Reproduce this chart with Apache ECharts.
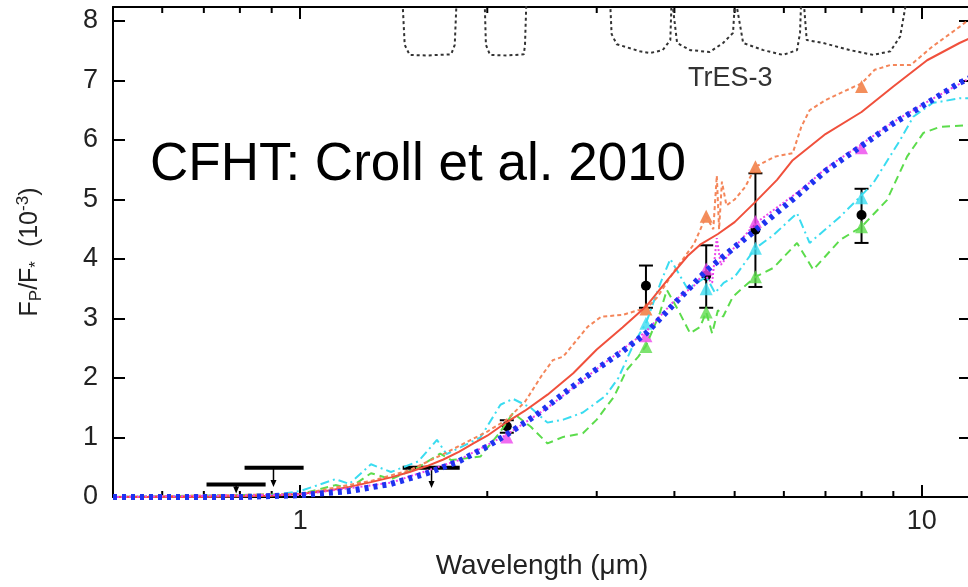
<!DOCTYPE html>
<html lang="en">
<head>
	<meta charset="UTF-8">
	<title>TrES-3 planet/star flux ratio</title>
	<script src="https://cdn.jsdelivr.net/npm/echarts@6/dist/echarts.min.js"></script>
	<style>
		html, body { margin: 0; padding: 0; background: #fff; }
		#chart { width: 968px; height: 587px; }
	</style>
</head>
<body>
	<div id="chart"></div>

	<script>
	/* axis ranges */
	var X_MIN = 0.5, X_MAX = 12;
	var Y_MIN = 0, Y_MAX = 8.235;
	var minorTicks = [0.6, 0.7, 0.8, 0.9, 2, 3, 4, 5, 6, 7, 8, 9];

	/* measured points (Fp/F*, 10^-3) */
	var ptX  = [2.15, 3.6, 4.5, 5.4, 8.0];
	var ptY  = [1.19, 3.55, 3.72, 4.49, 4.74];
	var ptLo = [1.08, 3.18, 3.18, 3.53, 4.27];
	var ptHi = [1.29, 3.89, 4.23, 5.44, 5.18];

	/* upper limits: band start, band end, level, arrow position, arrow tip */
	var ulFrom  = [0.707, 0.814, 1.462];
	var ulTo    = [0.880, 1.013, 1.806];
	var ulLevel = [0.21, 0.49, 0.49];
	var ulArrow = [0.789, 0.906, 1.627];
	var ulTip   = [0.06, 0.17, 0.15];

	/* band-integrated model values (triangles) */
	var triX       = [2.15, 3.6, 4.5, 5.4, 8.0];
	var triOrange  = [null, 3.16, 4.72, 5.55, 6.90];
	var triMagenta = [1.01, 2.71, 3.83, 4.63, 5.87];
	var triCyan    = [null, 2.92, 3.50, 4.18, 5.03];
	var triGreen   = [null, 2.53, 3.11, 3.70, 4.54];

	/* model spectra */
	var redModel = [[0.5,0],[0.7,0.0],[0.9,0.02],[1.0,0.05],[1.1,0.1],[1.2,0.17],[1.3,0.25],[1.4,0.33],[1.5,0.42],[1.6,0.52],[1.7,0.63],[1.8,0.76],[1.9,0.9],[2.0,1.03],[2.15,1.26],[2.3,1.45],[2.5,1.72],[2.75,2.08],[3.0,2.48],[3.3,2.85],[3.6,3.2],[3.9,3.65],[4.2,4.05],[4.4,4.24],[4.7,4.42],[5.0,4.62],[5.4,4.96],[5.85,5.33],[6.2,5.66],[7.0,6.1],[8.0,6.47],[9.0,6.9],[10.2,7.34],[11.5,7.63],[12,7.72]];
	var blueModel = [[0.5,0],[0.8,0.0],[1.0,0.03],[1.2,0.1],[1.4,0.22],[1.6,0.4],[1.8,0.6],[2.0,0.85],[2.15,1.05],[2.4,1.38],[2.7,1.8],[3.0,2.15],[3.3,2.45],[3.6,2.75],[4.0,3.25],[4.5,3.8],[5.0,4.2],[5.5,4.55],[6.2,5.0],[7.0,5.48],[8.0,5.9],[9.0,6.28],[10.2,6.62],[11.5,6.96],[12,7.05]];
	var magentaModel = [[0.5,0],[1.0,0.04],[1.4,0.24],[1.8,0.62],[2.15,1.05],[2.5,1.5],[3.0,2.15],[3.6,2.78],[4.0,3.3],[4.3,3.55],[4.45,3.75],[4.6,3.6],[4.68,4.35],[4.75,3.9],[5.0,4.2],[5.4,4.6],[6.0,4.95],[6.5,5.22],[7.0,5.52],[8.0,5.93],[9.0,6.3],[10.2,6.64],[12,7.05]];
	var orangeModel = [[0.5,0],[1.0,0.05],[1.3,0.27],[1.5,0.45],[1.7,0.72],[1.85,0.92],[2.0,1.1],[2.15,1.3],[2.3,1.6],[2.45,2.05],[2.55,2.3],[2.65,2.36],[2.9,2.86],[3.05,3.03],[3.3,3.06],[3.5,3.14],[3.6,3.16],[3.75,3.35],[4.0,3.8],[4.3,4.25],[4.5,4.72],[4.62,4.5],[4.68,5.4],[4.72,4.5],[4.77,5.3],[4.85,4.9],[5.0,5.0],[5.2,5.21],[5.4,5.55],[5.8,5.72],[6.2,5.78],[6.4,6.22],[6.6,6.5],[7.0,6.67],[7.8,6.9],[8.0,6.95],[8.4,7.18],[8.9,7.26],[9.6,7.26],[10.4,7.57],[11.5,7.9],[12,8.05]];
	var cyanModel = [[0.5,0],[0.9,0.03],[1.0,0.1],[1.14,0.3],[1.2,0.22],[1.3,0.55],[1.4,0.42],[1.55,0.6],[1.66,0.96],[1.72,0.72],[1.95,1.0],[2.1,1.55],[2.2,1.65],[2.35,1.5],[2.5,1.25],[2.65,1.3],[2.85,1.42],[3.1,1.7],[3.25,2.0],[3.45,2.6],[3.6,2.92],[3.8,3.6],[3.94,4.0],[4.2,3.5],[4.35,3.6],[4.5,3.7],[4.65,3.43],[4.8,3.6],[5.0,3.7],[5.4,4.18],[5.77,4.4],[6.3,4.77],[6.6,4.27],[7.39,4.71],[7.86,4.99],[8.35,5.27],[9.23,6.0],[9.69,6.39],[10.4,6.62],[11.5,6.7],[12,6.7]];
	var greenModel = [[0.5,0],[1.0,0.05],[1.14,0.2],[1.2,0.15],[1.3,0.4],[1.4,0.3],[1.55,0.5],[1.68,0.73],[1.75,0.62],[1.95,0.68],[2.1,1.1],[2.2,1.41],[2.35,1.18],[2.5,0.9],[2.65,1.01],[2.85,1.07],[3.0,1.3],[3.2,1.69],[3.35,2.13],[3.5,2.36],[3.6,2.54],[3.79,3.09],[3.89,3.48],[4.08,3.09],[4.24,2.75],[4.4,2.86],[4.5,3.11],[4.6,2.75],[4.7,3.14],[4.79,3.03],[4.97,3.37],[5.4,3.7],[5.77,3.85],[6.3,4.27],[6.69,3.82],[7.39,4.32],[8.0,4.54],[8.79,4.99],[9.47,5.72],[10.06,6.12],[10.7,6.22],[12,6.25]];

	/* filter transmission profiles hanging from the top */
	var filterH  = [[1.46,8.4],[1.473,7.6],[1.5,7.43],[1.6,7.42],[1.75,7.44],[1.773,7.6],[1.786,8.4]];
	var filterKs = [[1.98,8.4],[1.99,7.6],[2.02,7.43],[2.15,7.42],[2.29,7.44],[2.30,7.6],[2.313,8.4]];
	var filterI1 = [[3.15,8.4],[3.17,7.78],[3.23,7.61],[3.52,7.49],[3.65,7.46],[3.83,7.51],[3.94,7.68],[3.96,8.4]];
	var filterI2 = [[3.96,8.4],[4.04,7.63],[4.24,7.51],[4.56,7.48],[4.79,7.63],[4.97,7.8],[5.01,8.4]];
	var filterI3 = [[5.01,8.4],[5.16,7.63],[5.56,7.51],[5.98,7.43],[6.30,7.51],[6.37,7.8],[6.40,8.4]];
	var filterI4 = [[6.45,8.4],[6.53,7.68],[6.94,7.63],[7.67,7.51],[8.35,7.43],[8.9,7.49],[9.23,7.74],[9.47,8.4]];

	var FONT = "'Liberation Sans', Arial, sans-serif";

	function pairs(xs, ys) {
		var out = [];
		for (var i = 0; i < xs.length; i++) {
			if (ys[i] != null) out.push([xs[i], ys[i]]);
		}
		return out;
	}

	function modelLine(data, color, width, type) {
		return {
			type: 'line', data: data, showSymbol: false, symbol: 'none',
			lineStyle: { color: color, width: width, type: type },
			silent: true, animation: false
		};
	}

	function triangles(data, color) {
		return {
			type: 'scatter', data: data, symbol: 'triangle', symbolSize: 13,
			itemStyle: { color: color }, silent: true, animation: false
		};
	}

	var chart = echarts.init(document.getElementById('chart'), null, { renderer: 'canvas' });

	var logLabel = function (v) {
		var l = Math.log10(v);
		return Math.abs(l - Math.round(l)) < 1e-6 ? String(Math.round(v)) : '';
	};
	var intLabel = function (v) {
		return Math.abs(v - Math.round(v)) < 1e-6 ? String(Math.round(v)) : '';
	};

	var axisLine = { onZero: false, lineStyle: { color: '#000', width: 2 } };
	var axisTick = { inside: true, length: 12, lineStyle: { color: '#000', width: 2 } };

	var option = {
		animation: false,
		backgroundColor: '#fff',
		grid: { left: 113, top: 7, width: 858, height: 490, containLabel: false, outerBoundsMode: 'none' },
		xAxis: [
			{
				type: 'log', logBase: 10, min: X_MIN, max: X_MAX, position: 'bottom',
				axisLine: axisLine, axisTick: axisTick, splitLine: { show: false },
				axisLabel: { formatter: logLabel, fontSize: 27, color: '#222', fontFamily: FONT, margin: 11 },
				name: 'Wavelength (\u03bcm)', nameLocation: 'middle', nameGap: 55,
				nameTextStyle: { fontSize: 28, color: '#222', fontFamily: FONT }
			},
			{
				type: 'log', logBase: 10, min: X_MIN, max: X_MAX, position: 'top',
				axisLine: axisLine, axisTick: axisTick, splitLine: { show: false },
				axisLabel: { show: false }
			}
		],
		yAxis: [
			{
				type: 'value', min: Y_MIN, max: Y_MAX, interval: 1, position: 'left',
				axisLine: axisLine, axisTick: axisTick, splitLine: { show: false },
				axisLabel: { formatter: intLabel, fontSize: 27, color: '#222', fontFamily: FONT, margin: 15 },
				name: '{m|F}{s|P}{m|/F}{s|*}{m|  (10}{p|-3}{m|)}',
				nameLocation: 'middle', nameRotate: 90, nameGap: 68,
				nameTextStyle: {
					fontFamily: FONT, color: '#222', fontSize: 25,
					rich: {
						m: { fontFamily: FONT, color: '#222', fontSize: 25, lineHeight: 30 },
						s: { fontFamily: FONT, color: '#222', fontSize: 17, lineHeight: 18, verticalAlign: 'bottom' },
						p: { fontFamily: FONT, color: '#222', fontSize: 17, lineHeight: 18, verticalAlign: 'top' }
					}
				}
			},
			{
				type: 'value', min: Y_MIN, max: Y_MAX, interval: 1, position: 'right',
				axisLine: axisLine, axisTick: axisTick, splitLine: { show: false },
				axisLabel: { show: false }
			}
		],
		graphic: [
			{
				type: 'text', x: 150, y: 165, silent: true,
				style: { text: 'CFHT: Croll et al. 2010', font: '53px ' + FONT, fill: '#000',
					align: 'left', verticalAlign: 'middle', textAlign: 'left', textVerticalAlign: 'middle' }
			},
			{
				type: 'text', x: 688, y: 79, silent: true,
				style: { text: 'TrES-3', font: '27px ' + FONT, fill: '#333',
					align: 'left', verticalAlign: 'middle', textAlign: 'left', textVerticalAlign: 'middle' }
			}
		],
		series: [
			modelLine(filterH, '#333', 2, [3, 3]),
			modelLine(filterKs, '#333', 2, [3, 3]),
			modelLine(filterI1, '#333', 2, [3, 3]),
			modelLine(filterI2, '#333', 2, [3, 3]),
			modelLine(filterI3, '#333', 2, [3, 3]),
			modelLine(filterI4, '#333', 2, [3, 3]),
			modelLine(greenModel, '#5cdc4c', 2, [8, 5]),
			modelLine(cyanModel, '#3adcf0', 2, [9, 4, 2, 4]),
			modelLine(orangeModel, '#f4865a', 2, [4, 3]),
			modelLine(redModel, '#f0503c', 2, 'solid'),
			modelLine(magentaModel, '#ec46ec', 2, [2, 2]),
			modelLine(blueModel, '#1e32f0', 6, [4, 5]),
			triangles(pairs(triX, triGreen), '#5cdc4c'),
			triangles(pairs(triX, triCyan), '#3adcf0'),
			triangles(pairs(triX, triMagenta), '#ec46ec'),
			triangles(pairs(triX, triOrange), '#f07232'),
			{
				/* upper limits: horizontal band bar + downward arrow */
				type: 'custom', silent: true, animation: false,
				data: ulFrom.map(function (v, i) { return [v, ulLevel[i], ulTo[i], ulArrow[i], ulTip[i]]; }),
				renderItem: function (params, api) {
					var a = api.coord([api.value(0), api.value(1)]);
					var b = api.coord([api.value(2), api.value(1)]);
					var s = api.coord([api.value(3), api.value(1)]);
					var t = api.coord([api.value(3), api.value(4)]);
					return {
						type: 'group',
						children: [
							{ type: 'line', shape: { x1: a[0], y1: a[1], x2: b[0], y2: b[1] }, style: { stroke: '#000', lineWidth: 4 } },
							{ type: 'line', shape: { x1: s[0], y1: s[1], x2: t[0], y2: t[1] - 4 }, style: { stroke: '#000', lineWidth: 1.5 } },
							{ type: 'polygon', shape: { points: [[t[0] - 3, t[1] - 7], [t[0] + 3, t[1] - 7], [t[0], t[1]]] }, style: { fill: '#000' } }
						]
					};
				}
			},
			{
				/* measured eclipse depths with error bars */
				type: 'custom', silent: true, animation: false,
				data: ptX.map(function (v, i) { return [v, ptY[i], ptLo[i], ptHi[i]]; }),
				renderItem: function (params, api) {
					var c = api.coord([api.value(0), api.value(1)]);
					var lo = api.coord([api.value(0), api.value(2)]);
					var hi = api.coord([api.value(0), api.value(3)]);
					var st = { stroke: '#000', lineWidth: 2 };
					return {
						type: 'group',
						children: [
							{ type: 'line', shape: { x1: c[0], y1: lo[1], x2: c[0], y2: hi[1] }, style: st },
							{ type: 'line', shape: { x1: c[0] - 7, y1: lo[1], x2: c[0] + 7, y2: lo[1] }, style: st },
							{ type: 'line', shape: { x1: c[0] - 7, y1: hi[1], x2: c[0] + 7, y2: hi[1] }, style: st },
							{ type: 'circle', shape: { cx: c[0], cy: c[1], r: 5 }, style: { fill: '#000' } }
						]
					};
				}
			},
			{
				/* minor log ticks on bottom and top axes */
				type: 'custom', silent: true, animation: false,
				data: minorTicks.map(function (v) { return [v, 0]; }),
				renderItem: function (params, api) {
					var x = api.coord([api.value(0), 0])[0];
					var cs = params.coordSys;
					var st = { stroke: '#000', lineWidth: 2 };
					return {
						type: 'group',
						children: [
							{ type: 'line', shape: { x1: x, y1: cs.y + cs.height, x2: x, y2: cs.y + cs.height - 6 }, style: st },
							{ type: 'line', shape: { x1: x, y1: cs.y, x2: x, y2: cs.y + 6 }, style: st }
						]
					};
				}
			}
		]
	};

	chart.setOption(option);

	window.addEventListener('resize', function () {
		chart.resize();
	});
	</script>
</body>
</html>
